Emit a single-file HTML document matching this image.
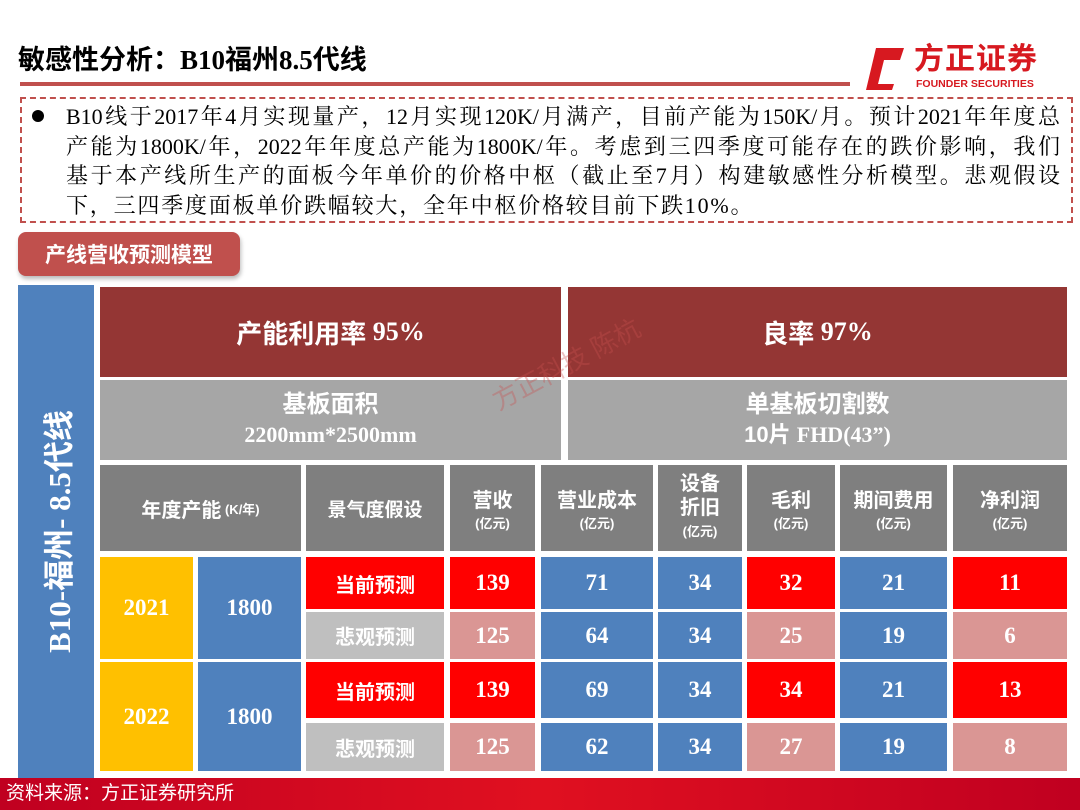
<!DOCTYPE html>
<html><head><meta charset="utf-8"><style>
*{margin:0;padding:0;box-sizing:border-box}
body{width:1080px;height:810px;background:#fff;position:relative;overflow:hidden;font-family:"Liberation Serif","Noto Sans CJK SC",serif}
.a{position:absolute;display:flex;align-items:center;justify-content:center;text-align:center;color:#fff;font-weight:bold}
.cjk{font-family:"Liberation Sans","Noto Sans CJK SC",sans-serif}
.num{font-family:"Liberation Serif",serif;font-size:23px}
.r{background:#ff0000}.p{background:#da9694}.b{background:#4f81bd}.g{background:#bfbfbf}.h{background:#7f7f7f}
.h small{font-size:13px;display:block;font-weight:bold}
.ln{height:29.5px;text-align:justify;text-align-last:justify;white-space:nowrap}
</style></head><body>
<div style="position:absolute;left:18px;top:38px;font-size:27px;font-weight:bold;color:#000;font-family:'Liberation Serif','Noto Sans CJK SC',serif">敏感性分析：B10福州8.5代线</div>
<div style="position:absolute;left:20px;top:82px;width:830px;height:4px;background:#c0504d"></div>
<div style="position:absolute;left:864px;top:42px;width:180px;height:50px">
<svg width="48" height="48" style="position:absolute;left:0;top:2px"><path d="M12 4 H40 L36 16 H20 L14 40 H30 L28 46 H2 Z" fill="#d71920"/></svg>
<div class="cjk" style="position:absolute;left:50px;top:-8px;font-size:30px;font-weight:bold;color:#d71920;letter-spacing:1px">方正证券</div>
<div style="position:absolute;left:52px;top:36px;font-size:10.5px;font-weight:bold;color:#d71920;font-family:'Liberation Sans',sans-serif">FOUNDER SECURITIES</div></div>
<div style="position:absolute;left:20px;top:97px;width:1053px;height:126px;border:2px dashed #c0504d"></div>
<div style="position:absolute;left:32px;top:110px;width:12px;height:12px;border-radius:50%;background:#000"></div>
<div style="position:absolute;left:66px;top:102px;width:994px;font-size:22px;line-height:29.5px;color:#000;font-family:'Liberation Serif','Noto Serif CJK SC',serif">
<div class="ln">B10线于2017年4月实现量产，12月实现120K/月满产，目前产能为150K/月。预计2021年年度总</div>
<div class="ln">产能为1800K/年，2022年年度总产能为1800K/年。考虑到三四季度可能存在的跌价影响，我们</div>
<div class="ln">基于本产线所生产的面板今年单价的价格中枢（截止至7月）构建敏感性分析模型。悲观假设</div>
<div style="height:29.5px;white-space:nowrap;letter-spacing:1.8px">下，三四季度面板单价跌幅较大，全年中枢价格较目前下跌10%。</div>
</div>
<div class="a cjk" style="left:18px;top:232px;width:222px;height:44px;background:#c0504d;border-radius:8px;font-size:21px;box-shadow:1px 3px 4px #bbb">产线营收预测模型</div>
<div class="a b" style="left:18px;top:285px;width:76px;height:493px"><div style="transform:rotate(-90deg);white-space:nowrap;font-size:31px;font-family:'Liberation Serif','Noto Sans CJK SC',serif">B10-福州- 8.5代线</div></div>
<div class="a cjk" style="left:100px;top:287px;width:461px;height:90px;background:#943634;font-size:26px">产能利用率 <span style="font-family:'Liberation Serif',serif">&nbsp;95%</span></div>
<div class="a cjk" style="left:568px;top:287px;width:499px;height:90px;background:#943634;font-size:26px">良率 <span style="font-family:'Liberation Serif',serif">&nbsp;97%</span></div>
<div class="a cjk" style="left:100px;top:380px;width:461px;height:80px;background:#a6a6a6;font-size:24px;flex-direction:column;line-height:30px">基板面积<span style="font-family:'Liberation Serif',serif;font-size:22px">2200mm*2500mm</span></div>
<div class="a cjk" style="left:568px;top:380px;width:499px;height:80px;background:#a6a6a6;font-size:24px;flex-direction:column;line-height:30px">单基板切割数<span style="font-size:22px">10片 <span style="font-family:'Liberation Serif',serif">FHD(43”)</span></span></div>
<div class="a cjk h" style="left:100px;top:465px;width:201px;height:86px;font-size:20px">年度产能<span style="font-size:13px">&nbsp;(K/年)</span></div>
<div class="a cjk h" style="left:306px;top:465px;width:138px;height:86px;font-size:19px">景气度假设</div>
<div class="a cjk h" style="left:450px;top:465px;width:85px;height:86px;font-size:20px;flex-direction:column">营收<small>(亿元)</small></div>
<div class="a cjk h" style="left:541px;top:465px;width:112px;height:86px;font-size:20px;flex-direction:column">营业成本<small>(亿元)</small></div>
<div class="a cjk h" style="left:658px;top:465px;width:84px;height:86px;font-size:20px;flex-direction:column;line-height:24px">设备<br>折旧<small>(亿元)</small></div>
<div class="a cjk h" style="left:747px;top:465px;width:88px;height:86px;font-size:20px;flex-direction:column">毛利<small>(亿元)</small></div>
<div class="a cjk h" style="left:840px;top:465px;width:107px;height:86px;font-size:20px;flex-direction:column">期间费用<small>(亿元)</small></div>
<div class="a cjk h" style="left:953px;top:465px;width:114px;height:86px;font-size:20px;flex-direction:column">净利润<small>(亿元)</small></div>
<div class="a num" style="left:100px;top:557px;width:93px;height:102px;background:#ffc000">2021</div>
<div class="a num b" style="left:198px;top:557px;width:103px;height:102px">1800</div>
<div class="a num" style="left:100px;top:662px;width:93px;height:109px;background:#ffc000">2022</div>
<div class="a num b" style="left:198px;top:662px;width:103px;height:109px">1800</div>
<div id="rows"></div>
<div class="cjk" style="position:absolute;left:485px;top:385px;font-size:26px;color:rgba(200,80,80,0.35);transform:rotate(-28deg);transform-origin:left top;white-space:nowrap;font-weight:normal">方正科技 陈杭</div>
<div class="cjk" style="position:absolute;left:0;top:778px;width:1080px;height:32px;background:linear-gradient(90deg,#c00020,#e01020 50%,#c00020);color:#fff;font-size:19px;padding-left:6px;line-height:32px">资料来源：方正证券研究所</div>
<script>
const scenarios=['当前预测','悲观预测','当前预测','悲观预测'];
const revenue=[139,125,139,125];
const cost=[71,64,69,62];
const depreciation=[34,34,34,34];
const grossProfit=[32,25,34,27];
const expenses=[21,19,21,19];
const netProfit=[11,6,13,8];
const rowTop=[557,612,662,723],rowH=[52,47,56,48];
const cols=[[450,85,revenue,'rev'],[541,112,cost,'cost'],[658,84,depreciation,'dep'],[747,88,grossProfit,'gross'],[840,107,expenses,'exp'],[953,114,netProfit,'net']];
const host=document.getElementById('rows');
for(let i=0;i<4;i++){
 const cur=i%2===0;
 const s=document.createElement('div');
 s.className='a cjk '+(cur?'r':'g');
 s.style.cssText=`left:306px;top:${rowTop[i]}px;width:138px;height:${rowH[i]}px;font-size:20px`;
 s.textContent=scenarios[i];
 
 
 host.appendChild(s);
 cols.forEach(([x,w,arr,n])=>{
  const c=document.createElement('div');
  const red=(n==='rev'||n==='gross'||n==='net');
  c.className='a num '+(red?(cur?'r':'p'):'b');
  c.style.cssText=`left:${x}px;top:${rowTop[i]}px;width:${w}px;height:${rowH[i]}px`;
  c.textContent=arr[i];
  
  
  host.appendChild(c);
 });
}
</script>
</body></html>
